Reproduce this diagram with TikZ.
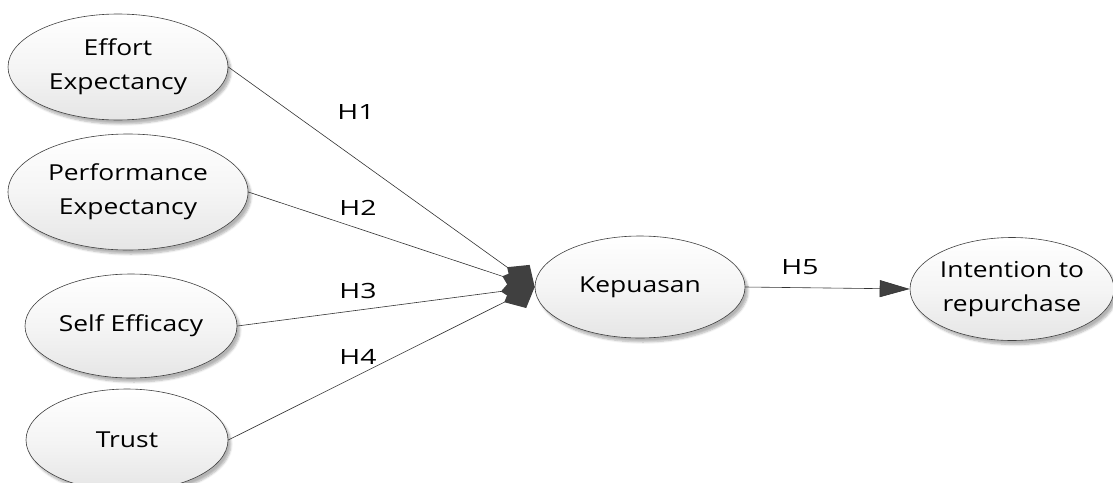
\documentclass[tikz,border=0pt]{standalone}
\usepackage{fontspec}
\setmainfont{Open Sans}
\newfontfamily\labelfont[FakeStretch=1.2]{Open Sans}
\newfontfamily\hypfont[FakeStretch=1.35]{Open Sans}
\usetikzlibrary{arrows.meta,shapes.geometric,shadows.blur}
\begin{document}
\begin{tikzpicture}[x=1pt,y=-1pt,
  construct/.style={ellipse, draw=black!75, line width=0.6pt,
    top color=white, bottom color=black!10, middle color=black!4,
    minimum width=2*#1, inner sep=0pt, align=center,
    font=\labelfont\fontsize{22}{34}\selectfont,
    blur shadow={shadow xshift=3pt, shadow yshift=-4pt, shadow opacity=30, shadow blur steps=6}},
  path/.style={draw=black!80, line width=0.6pt},
  hyp/.style={font=\hypfont\fontsize{21}{24}\selectfont},
  joint/.style={-{Diamond[length=34pt,width=30pt,fill=black!75,line width=0pt]}}
]
\useasboundingbox (0,0) rectangle (1113,482);

% exogenous constructs
\node[construct=110pt, minimum height=106pt] (ee) at (118,67) {Effort\\Expectancy};
\node[construct=120pt, minimum height=116pt] (pe) at (128,192) {Performance\\Expectancy};
\node[construct=106pt, minimum height=104pt] (se) at (131,326) {Self Efficacy};
\node[construct=101pt, minimum height=102pt] (tr) at (127,440) {Trust};

% mediator and outcome
\node[construct=105pt, minimum height=102pt] (kp) at (640,287) {Kepuasan};
\node[construct=102pt, minimum height=103pt] (ir) at (1012,289) {Intention to\\repurchase};

% structural paths
\draw[path, joint] (ee.east) -- (kp.west);
\draw[path, joint] (pe.east) -- (kp.west);
\draw[path, joint] (se.east) -- (kp.west);
\draw[path, joint] (tr.east) -- (kp.west);
\draw[path, -{Triangle[length=30pt,width=17pt,fill=black!75]}] (kp.east) -- (ir.west);

% hypothesis labels
\node[hyp] (h1) at (356,112) {H1};
\node[hyp] (h2) at (358,208) {H2};
\node[hyp] (h3) at (358,291) {H3};
\node[hyp] (h4) at (358,357) {H4};
\node[hyp] (h5) at (800,267) {H5};
\end{tikzpicture}
\end{document}
